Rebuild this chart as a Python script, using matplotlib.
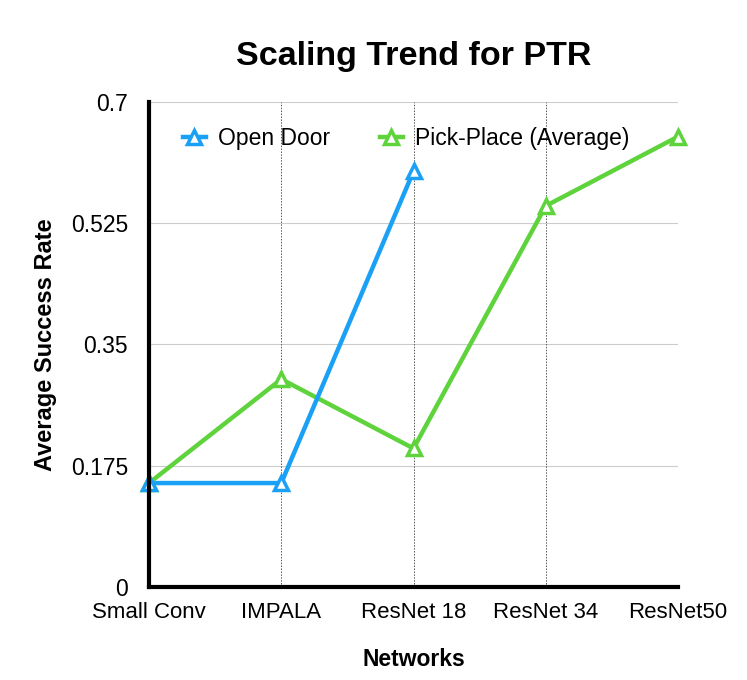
import matplotlib
matplotlib.use("Agg")
import matplotlib.pyplot as plt

plt.rcParams["font.family"] = ["Liberation Sans", "DejaVu Sans"]

networks = ["Small Conv", "IMPALA", "ResNet 18", "ResNet 34", "ResNet50"]
open_door = [0.15, 0.15, 0.6]
pick_place = [0.15, 0.3, 0.2, 0.55, 0.65]
y_ticks = [0, 0.175, 0.35, 0.525, 0.7]
y_tick_labels = ["0", "0.175", "0.35", "0.525", "0.7"]

blue = "#1aa0f5"
green = "#5ed33c"

fig = plt.figure(figsize=(7.47, 6.8), dpi=100)
ax = fig.add_axes([0.1995, 0.1368, 0.7081, 0.7132])

x_all = list(range(len(networks)))

ax.plot(x_all[:len(open_door)], open_door, color=blue, linewidth=3.2,
        marker="^", markersize=10, markerfacecolor="white",
        markeredgecolor=blue, markeredgewidth=2.5, label="Open Door",
        clip_on=False, zorder=4)
ax.plot(x_all, pick_place, color=green, linewidth=3.2,
        marker="^", markersize=10, markerfacecolor="white",
        markeredgecolor=green, markeredgewidth=2.5,
        label="Pick-Place (Average)", clip_on=False, zorder=3)

ax.set_xlim(0, len(networks) - 1)
ax.set_ylim(0, 0.7)
ax.set_xticks(x_all)
ax.set_xticklabels(networks, fontsize=16)
ax.set_yticks(y_ticks)
ax.set_yticklabels(y_tick_labels, fontsize=16.5)
ax.tick_params(axis="x", length=0, pad=11)
ax.tick_params(axis="y", length=0, pad=15)

# --- grid ---
for yv in y_ticks[1:]:
    ax.axhline(yv, color="#cccccc", linewidth=0.8, zorder=0)
for xv in x_all[1:]:
    ax.axvline(xv, color="#555555", linewidth=0.7, linestyle=(0, (1.5, 1.5)), zorder=0)

for side in ["top", "right"]:
    ax.spines[side].set_visible(False)
for side in ["left", "bottom"]:
    ax.spines[side].set_linewidth(3)
    ax.spines[side].set_zorder(5)

ax.set_title("Scaling Trend for PTR", fontsize=24.5, fontweight="bold", pad=27)
ax.set_xlabel("Networks", fontsize=16.5, fontweight="bold", labelpad=18)
ax.set_ylabel("Average Success Rate", fontsize=17, fontweight="bold", labelpad=10)

ax.legend(loc="upper left", ncol=2, frameon=False, fontsize=16.5,
          bbox_to_anchor=(0.025, 0.99), handlelength=1.0, handletextpad=0.55,
          columnspacing=2.15)

fig.savefig("out.png", dpi=100)
